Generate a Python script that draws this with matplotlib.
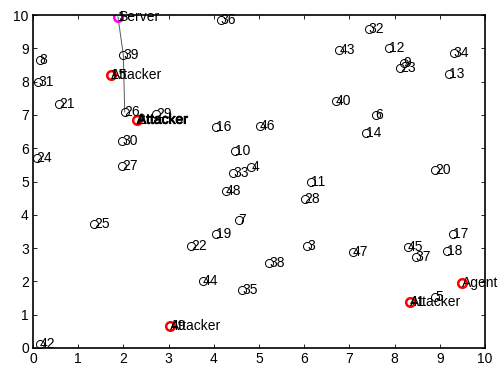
import matplotlib
matplotlib.use("Agg")
import matplotlib.pyplot as plt
import matplotlib.patheffects as pe

# ordinary sensor nodes: id, x, y
node_ids = [3, 4, 5, 6, 7, 8, 9, 10, 11, 12, 13, 14, 16, 17, 18, 19, 20, 21, 22,
            23, 24, 25, 26, 27, 28, 29, 30, 31, 32, 33, 34, 35, 36, 37, 38, 39,
            40, 42, 43, 44, 45, 46, 47, 48]
node_x = [6.07, 4.83, 8.90, 7.58, 4.55, 0.15, 8.20, 4.46, 6.14, 7.88, 9.21, 7.36,
          4.04, 9.30, 9.16, 4.06, 8.90, 0.58, 3.50, 8.12, 0.08, 1.36, 2.03, 1.97,
          6.01, 2.72, 1.97, 0.12, 7.43, 4.43, 9.31, 4.63, 4.15, 8.47, 5.22, 2.00,
          6.70, 0.15, 6.78, 3.76, 8.29, 5.02, 7.07, 4.27]
node_y = [3.05, 5.45, 1.52, 7.00, 3.84, 8.65, 8.57, 5.93, 4.99, 9.00, 8.23, 6.45,
          6.65, 3.41, 2.92, 3.42, 5.35, 7.32, 3.06, 8.42, 5.70, 3.71, 7.09, 5.48,
          4.47, 7.02, 6.23, 8.00, 9.58, 5.27, 8.87, 1.74, 9.85, 2.74, 2.54, 8.80,
          7.42, 0.12, 8.95, 2.01, 3.02, 6.67, 2.87, 4.72]

# attackers
attacker_ids = [15, 2, 49, 41]
attacker_x = [1.73, 2.30, 3.04, 8.34]
attacker_y = [8.21, 6.86, 0.66, 1.37]

# server and agent
server_id, server_x, server_y = 1, 1.88, 9.95
agent_x, agent_y = 9.49, 1.96

# route drawn from the server
route_x = [server_x, 2.00, 2.03]
route_y = [server_y, 8.80, 7.09]

plt.rcParams["font.family"] = ["Liberation Sans", "DejaVu Sans"]
plt.rcParams["font.size"] = 10

fig = plt.figure(figsize=(4.99, 3.69), dpi=100)
ax = fig.add_axes([0.066, 0.057, 0.906, 0.902])

ax.plot(route_x, route_y, color="0.35", lw=0.7, zorder=1)

ax.plot(node_x, node_y, "o", ls="none", ms=5.8, mfc="none", mec="black", mew=0.7)
for i, x, y in zip(node_ids, node_x, node_y):
    ax.text(x, y, str(i), ha="left", va="center")

ax.plot(attacker_x, attacker_y, "o", ls="none", ms=6.2, mfc="none", mec="red", mew=1.8)
for k, (i, x, y) in enumerate(zip(attacker_ids, attacker_x, attacker_y)):
    ax.text(x, y, str(i), ha="left", va="center")
    t = ax.text(x, y, "Attacker", ha="left", va="center")
    if k == 1:
        t.set_path_effects([pe.withStroke(linewidth=0.7, foreground="black")])

ax.plot([server_x], [server_y], "o", ms=6.2, mfc="none", mec="magenta", mew=1.8)
ax.text(server_x, server_y, str(server_id), ha="left", va="center")
ax.text(server_x, server_y, "Server", ha="left", va="center")

ax.plot([agent_x], [agent_y], "o", ms=6.2, mfc="none", mec="red", mew=1.8)
ax.text(agent_x, agent_y, "Agent", ha="left", va="center")

ax.set_xlim(0, 10)
ax.set_ylim(0, 10)
ax.set_xticks(range(0, 11))
ax.set_yticks(range(0, 11))
ax.tick_params(direction="in", length=3, width=0.6, top=True, right=True, pad=3)
for s in ax.spines.values():
    s.set_linewidth(1.2)

fig.savefig("out.png", dpi=100)
